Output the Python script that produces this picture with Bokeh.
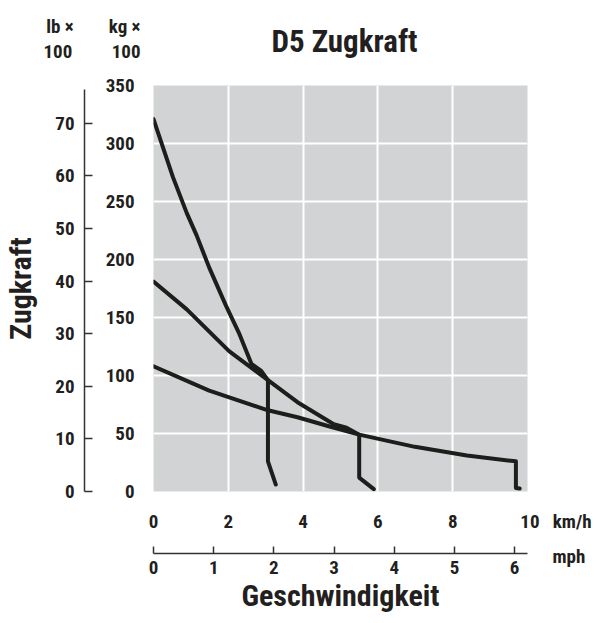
from bokeh.plotting import figure
from bokeh.models import Range1d, LinearAxis, FixedTicker, Label
from bokeh.embed import file_html
from bokeh.resources import INLINE

FONT = "Roboto Condensed"

# Data (km/h vs kg x 100)
gear1_kmh = [0, 0.52, 0.89, 1.15, 1.49, 1.94, 2.28, 2.62, 2.88, 3.06, 3.06, 3.27]
gear1_kg = [321, 271, 240, 221, 193, 160, 137, 110, 104, 96, 26, 6]
gear2_kmh = [0, 0.89, 2.02, 3.06, 3.85, 4.82, 5.16, 5.50, 5.50, 5.89]
gear2_kg = [181, 157, 121, 96, 77, 58, 55, 49, 12, 2]
gear3_kmh = [0, 1.49, 3.06, 3.85, 4.71, 5.50, 6.99, 8.38, 9.69, 9.69, 9.79]
gear3_kg = [108, 87, 70, 64, 56, 49, 38.5, 31, 26, 3, 2.5]

kg_ticks = [0, 50, 100, 150, 200, 250, 300, 350]
lb_ticks = [0, 10, 20, 30, 40, 50, 60, 70]
kmh_ticks = [0, 2, 4, 6, 8, 10]
mph_ticks = [0, 1, 2, 3, 4, 5, 6]

KG_MAX = 350
KMH_MAX = 10
LB_MAX = KG_MAX / 4.5359
MPH_MAX = KMH_MAX / 1.609344

TXT = "#231f20"
TICK_SIZE = "19px"
BIG = "30px"
NB = "\u00a0"

p = figure(width=592, height=615, output_backend="svg", toolbar_location=None,
           title_location=None,
           x_range=Range1d(0, KMH_MAX), y_range=Range1d(0, KG_MAX),
           min_border_left=145, min_border_right=65, min_border_top=85, min_border_bottom=112)

p.background_fill_color = "#d1d3d4"
p.border_fill_color = "white"
p.outline_line_color = None

p.xgrid.ticker = FixedTicker(ticks=[2, 4, 6, 8])
p.ygrid.ticker = FixedTicker(ticks=[50, 100, 150, 200, 250, 300])
p.grid.grid_line_color = "white"
p.grid.grid_line_width = 2

def style_labels(ax):
    ax.major_label_text_font = FONT
    ax.major_label_text_font_size = TICK_SIZE
    ax.major_label_text_font_style = "bold"
    ax.major_label_text_color = TXT
    ax.minor_tick_line_color = None

# kg axis (inner left)
ya = p.yaxis[0]
ya.ticker = FixedTicker(ticks=kg_ticks)
ya.axis_line_color = None
ya.major_tick_line_color = None
ya.major_label_standoff = 13
style_labels(ya)
ya.axis_label = " "
ya.axis_label_text_font_size = "10px"
ya.axis_label_standoff = 4

# lb axis (outer left)
p.extra_y_ranges = {"lb": Range1d(0, LB_MAX)}
lb = LinearAxis(y_range_name="lb", ticker=FixedTicker(ticks=lb_ticks), bounds=(0, 76.4))
lb.axis_line_color = "#333333"
lb.axis_line_width = 1.5
lb.major_tick_line_color = "#333333"
lb.major_tick_line_width = 1.5
lb.major_tick_in = 8
lb.major_tick_out = 0
lb.major_label_standoff = 10
style_labels(lb)
lb.axis_label = "Zugkraft"
lb.axis_label_text_font = FONT
lb.axis_label_text_font_size = BIG
lb.axis_label_text_font_style = "bold"
lb.axis_label_text_color = TXT
lb.axis_label_standoff = 14
p.add_layout(lb, "left")

# km/h axis (inner bottom); the unit text rides on the last tick label
xa = p.xaxis[0]
xa.ticker = FixedTicker(ticks=kmh_ticks)
xa.axis_line_color = None
xa.major_tick_line_color = None
xa.major_label_standoff = 12
style_labels(xa)
xa.major_label_overrides = {10: NB * 13 + "10" + NB * 3 + "km/h"}
xa.axis_label = " "
xa.axis_label_text_font_size = "8px"
xa.axis_label_standoff = 6

# mph axis (outer bottom)
p.extra_x_ranges = {"mph": Range1d(0, MPH_MAX)}
mph = LinearAxis(x_range_name="mph", ticker=FixedTicker(ticks=mph_ticks))
mph.axis_line_color = "#333333"
mph.axis_line_width = 1.5
mph.major_tick_line_color = "#333333"
mph.major_tick_line_width = 1.5
mph.major_tick_in = 7
mph.major_tick_out = 0
mph.major_label_standoff = 7
style_labels(mph)
mph.axis_label = "Geschwindigkeit"
mph.axis_label_text_font = FONT
mph.axis_label_text_font_size = BIG
mph.axis_label_text_font_style = "bold"
mph.axis_label_text_color = TXT
mph.axis_label_standoff = 1
p.add_layout(mph, "below")

# curves
for xs, ys in [(gear1_kmh, gear1_kg), (gear2_kmh, gear2_kg), (gear3_kmh, gear3_kg)]:
    p.line(xs, ys, line_color="#1d1d1b", line_width=4, line_join="round", line_cap="round")

# texts outside the plot area, held in side panels (screen offsets from each panel box)
def lab(text, x, y, align, side, size=TICK_SIZE):
    p.add_layout(Label(x=x, y=y, x_units="screen", y_units="screen", text=text,
                       text_font=FONT, text_font_size=size, text_font_style="bold",
                       text_color=TXT, text_align=align, text_baseline="middle"), side)

# title (innermost in the top panel)
lab("D5 Zugkraft", 191, 44, "center", "above", size="31px")
# unit rows above the vertical axes
lab("lb \u00d7" + NB * 8 + "kg \u00d7", -13, 22, "right", "above")
lab("100" + NB * 9 + "100", -13, -26, "right", "above")
# mph unit right of the mph axis
lab("mph", 25, -65, "left", "right")

open("out.html", "w").write(file_html(p, INLINE))
